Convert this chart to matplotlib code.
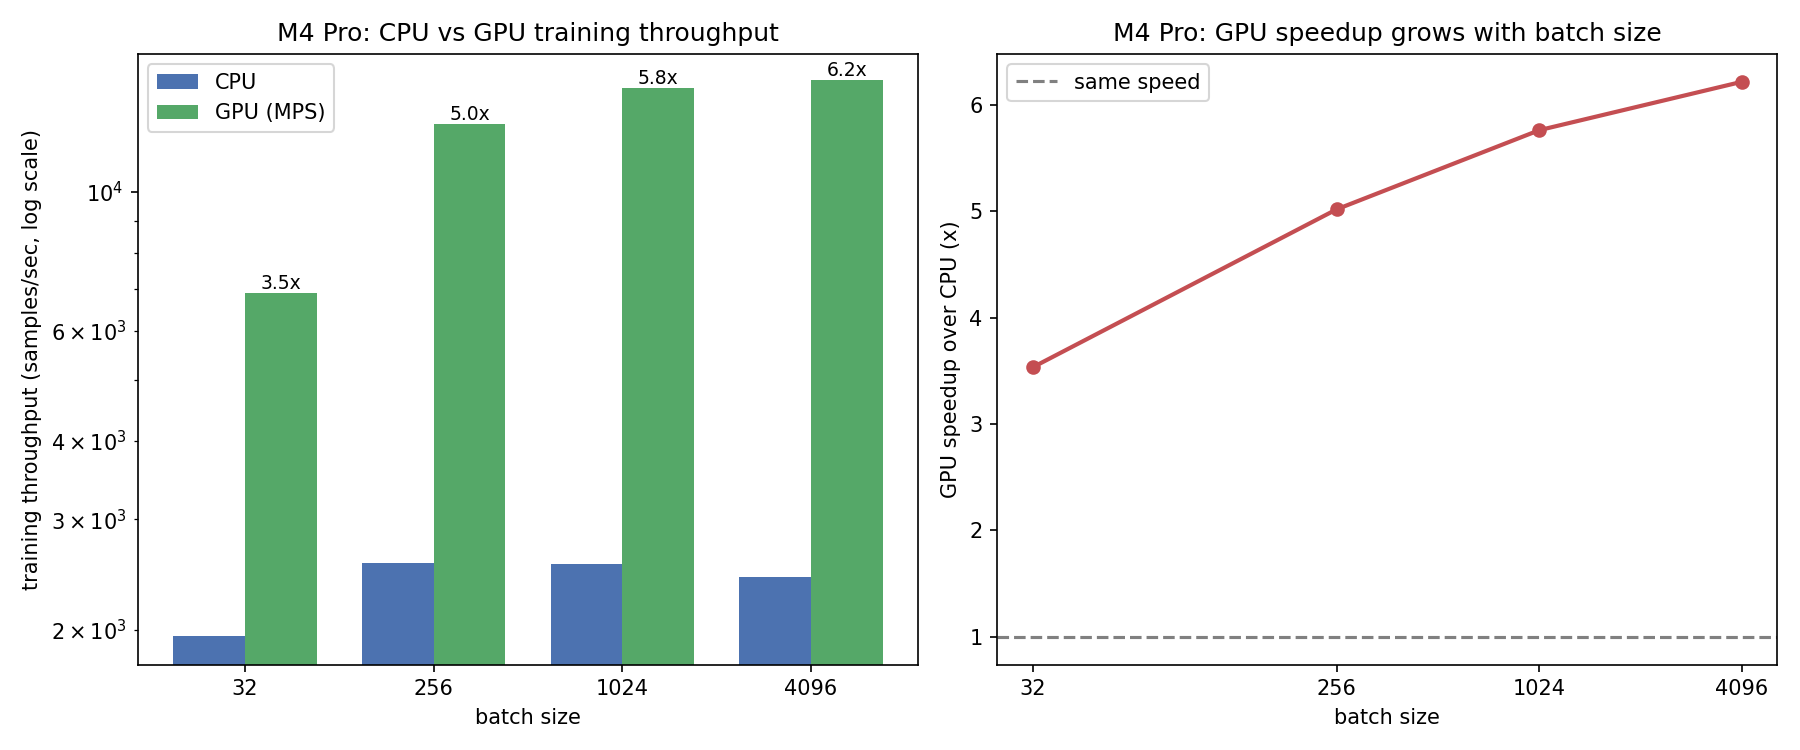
import numpy as np
import matplotlib.pyplot as plt

# values
batch_sizes = [32, 256, 1024, 4096]
cpu_tput = [1954, 2555, 2546, 2427]
gpu_tput = [6903, 12822, 14672, 15091]
speedup = [g / c for g, c in zip(gpu_tput, cpu_tput)]

fig, (ax1, ax2) = plt.subplots(1, 2, figsize=(12, 5), dpi=150)

# left: grouped bars on log scale
x = np.arange(len(batch_sizes))
w = 0.38
ax1.bar(x - w / 2, cpu_tput, w, color='#4C72B0', label='CPU')
gpu_bars = ax1.bar(x + w / 2, gpu_tput, w, color='#55A868', label='GPU (MPS)')
ax1.set_yscale('log')
ax1.set_ylim(min(cpu_tput) * 0.9, max(gpu_tput) * 1.1)
for bar, s in zip(gpu_bars, speedup):
    ax1.text(bar.get_x() + bar.get_width() / 2, bar.get_height(), f"{s:.1f}x",
             ha='center', va='bottom', fontsize=9)
ax1.set_xticks(x)
ax1.set_xticklabels([str(b) for b in batch_sizes])
ax1.set_xlabel("batch size")
ax1.set_ylabel("training throughput (samples/sec, log scale)")
ax1.set_title("M4 Pro: CPU vs GPU training throughput")
ax1.legend(loc='upper left')

# right: speedup line
ax2.plot(batch_sizes, speedup, marker='o', color='#C44E52', linewidth=2)
ax2.axhline(1.0, color='gray', linestyle='--', label='same speed')
ax2.set_xscale('log', base=2)
ax2.set_xticks(batch_sizes)
ax2.set_xticklabels([str(b) for b in batch_sizes])
ax2.minorticks_off()
ax2.set_xlabel("batch size")
ax2.set_ylabel("GPU speedup over CPU (x)")
ax2.set_title("M4 Pro: GPU speedup grows with batch size")
ax2.legend(loc='upper left')

plt.tight_layout()
plt.savefig("out.png")
